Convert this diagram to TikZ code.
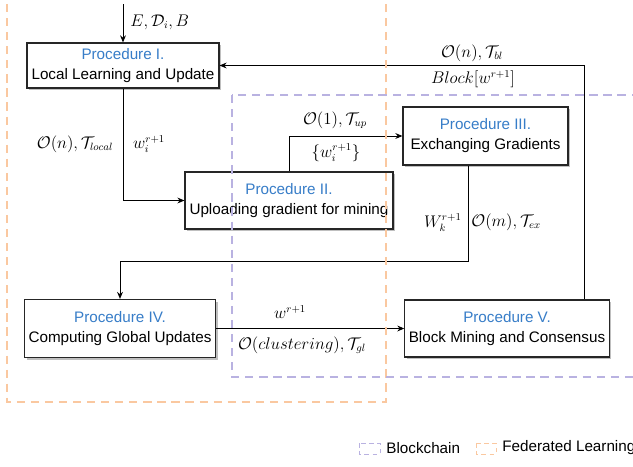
\documentclass[tikz,border=0pt]{standalone}
\usepackage{amsmath}
\usepackage[no-math]{fontspec}
\setmainfont{Liberation Sans}
\usetikzlibrary{arrows.meta, positioning, shadows}
\definecolor{proc}{RGB}{55,125,200}
\definecolor{flzone}{RGB}{250,200,160}
\definecolor{bczone}{RGB}{185,178,225}

\begin{document}
\begin{tikzpicture}[x=0.03cm,y=-0.03cm,
	procbox/.style={draw=black!85, line width=1pt, fill=white, align=center,
		font=\fontsize{13}{17}\selectfont,
		drop shadow={shadow xshift=0.07cm, shadow yshift=-0.07cm, fill=black!25, opacity=1}},
	flow/.style={-{Stealth[length=6pt,width=5pt]}, line width=0.8pt},
	lbl/.style={font=\fontsize{13.5}{16}\selectfont, inner sep=1pt},
	keytxt/.style={font=\fontsize{13}{15}\selectfont, inner sep=1pt},
	zone/.style={dashed, dash pattern=on 7pt off 5pt, line width=1.1pt}]
	\useasboundingbox (0,0) rectangle (633,466);
	% procedures
	\node[procbox, minimum width=5.76cm, minimum height=1.35cm] (p1) at (123,65.5)
		{\textcolor{proc}{Procedure I.}\\Local Learning and Update};
	\node[procbox, minimum width=6.24cm, minimum height=1.71cm] (p2) at (289,200.5)
		{\textcolor{proc}{Procedure II.}\\Uploading gradient for mining};
	\node[procbox, minimum width=4.95cm, minimum height=1.74cm] (p3) at (485.5,136)
		{\textcolor{proc}{Procedure III.}\\Exchanging Gradients};
	\node[procbox, minimum width=5.64cm, minimum height=1.74cm] (p4) at (120,328.5)
		{\textcolor{proc}{Procedure IV.}\\Computing Global Updates};
	\node[procbox, minimum width=6.12cm, minimum height=1.71cm] (p5) at (507,328.5)
		{\textcolor{proc}{Procedure V.}\\Block Mining and Consensus};
	% bends
	\coordinate (in) at (123,4);
	\coordinate (c3) at (468,261);
	\coordinate (c5) at (584,65.5);
	% connectors
	\draw[flow] (in) -- (p1.north);
	\draw[flow] (p1.south) |- (p2.west);
	\draw[flow] (p2.north) |- (p3.west);
	\draw[flow] (c3 |- p3.south) -- (c3) -| (p4.north);
	\draw[flow] (p4) -- (p5);
	\draw[flow] (c5 |- p5.north) -- (c5) -- (p1.east);
	% labels
	\node[lbl, anchor=west] (lin) at (129,22) {$E, \mathcal{D}_i, B$};
	\node[lbl] (l12a) at (75,144) {$\mathcal{O}(n), \mathcal{T}_{local}$};
	\node[lbl] (l12b) at (149,144) {$w_i^{r+1}$};
	\node[lbl] (l23a) at (335,120) {$\mathcal{O}(1), \mathcal{T}_{up}$};
	\node[lbl] (l23b) at (336,153) {$\{w_i^{r+1}\}$};
	\node[lbl, anchor=east] (l34a) at (463,223) {$W_k^{r+1}$};
	\node[lbl, anchor=west] (l34b) at (470,222) {$\mathcal{O}(m), \mathcal{T}_{ex}$};
	\node[lbl] (l45a) at (290,312) {$w^{r+1}$};
	\node[lbl] (l45b) at (302,345) {$\mathcal{O}(clustering), \mathcal{T}_{gl}$};
	\node[lbl] (l51a) at (472,53) {$\mathcal{O}(n), \mathcal{T}_{bl}$};
	\node[lbl] (l51b) at (473,79) {$Block[w^{r+1}]$};
	% zones
	\draw[zone, flzone] (7,-10) rectangle (386,402);
	\draw[zone, bczone] (232,95) rectangle (660,377);
	% legend
	\draw[zone, bczone, line width=0.8pt, dash pattern=on 4pt off 3pt] (359,443) rectangle (380,454);
	\node[keytxt, anchor=west] (bctxt) at (385,448) {Blockchain};
	\draw[zone, flzone, line width=0.8pt, dash pattern=on 4pt off 3pt] (476,443) rectangle (496,454);
	\node[keytxt, anchor=west] (fltxt) at (501,448) {Federated Learning};
\end{tikzpicture}
\end{document}
